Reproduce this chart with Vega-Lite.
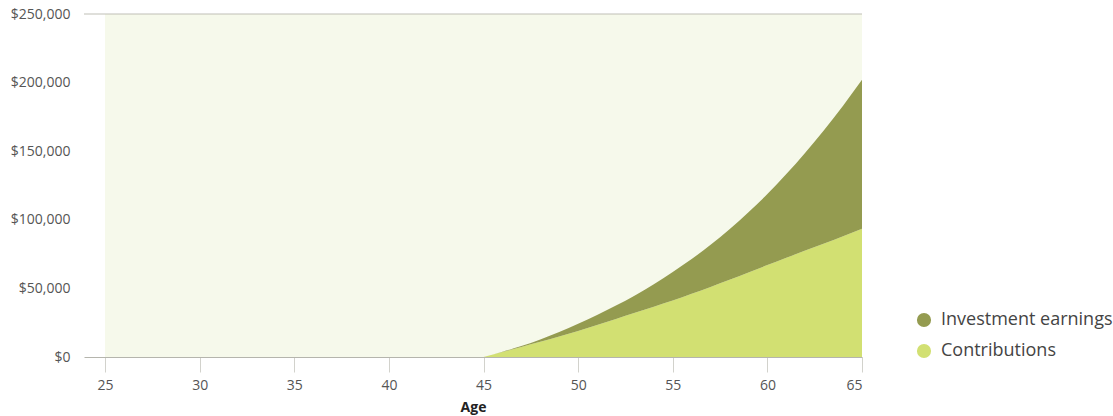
{
  "$schema": "https://vega.github.io/schema/vega-lite/v6.json",
  "width": 778,
  "height": 343,
  "autosize": {"type": "none"},
  "padding": {"left": 84, "top": 14, "right": 251, "bottom": 59},
  "background": "#ffffff",
  "config": {
    "view": {"stroke": null},
    "font": "Open Sans",
    "axis": {"labelFont": "Open Sans", "titleFont": "Open Sans"},
    "legend": {"labelFont": "Open Sans"}
  },
  "datasets": {
    "savings": [
      {"age": 45, "series": "Contributions", "amount": 0},
      {"age": 46, "series": "Contributions", "amount": 3600},
      {"age": 47, "series": "Contributions", "amount": 7300},
      {"age": 48, "series": "Contributions", "amount": 11100},
      {"age": 49, "series": "Contributions", "amount": 15000},
      {"age": 50, "series": "Contributions", "amount": 19000},
      {"age": 51, "series": "Contributions", "amount": 23300},
      {"age": 52, "series": "Contributions", "amount": 27700},
      {"age": 53, "series": "Contributions", "amount": 32200},
      {"age": 54, "series": "Contributions", "amount": 36700},
      {"age": 55, "series": "Contributions", "amount": 41200},
      {"age": 56, "series": "Contributions", "amount": 46100},
      {"age": 57, "series": "Contributions", "amount": 51100},
      {"age": 58, "series": "Contributions", "amount": 56300},
      {"age": 59, "series": "Contributions", "amount": 61600},
      {"age": 60, "series": "Contributions", "amount": 67000},
      {"age": 61, "series": "Contributions", "amount": 72300},
      {"age": 62, "series": "Contributions", "amount": 77600},
      {"age": 63, "series": "Contributions", "amount": 82800},
      {"age": 64, "series": "Contributions", "amount": 88100},
      {"age": 65, "series": "Contributions", "amount": 93400},
      {"age": 45, "series": "Investment earnings", "amount": 0},
      {"age": 46, "series": "Investment earnings", "amount": 200},
      {"age": 47, "series": "Investment earnings", "amount": 700},
      {"age": 48, "series": "Investment earnings", "amount": 1700},
      {"age": 49, "series": "Investment earnings", "amount": 3200},
      {"age": 50, "series": "Investment earnings", "amount": 5200},
      {"age": 51, "series": "Investment earnings", "amount": 7400},
      {"age": 52, "series": "Investment earnings", "amount": 9800},
      {"age": 53, "series": "Investment earnings", "amount": 12700},
      {"age": 54, "series": "Investment earnings", "amount": 16400},
      {"age": 55, "series": "Investment earnings", "amount": 20800},
      {"age": 56, "series": "Investment earnings", "amount": 25300},
      {"age": 57, "series": "Investment earnings", "amount": 30700},
      {"age": 58, "series": "Investment earnings", "amount": 36800},
      {"age": 59, "series": "Investment earnings", "amount": 43900},
      {"age": 60, "series": "Investment earnings", "amount": 51800},
      {"age": 61, "series": "Investment earnings", "amount": 61000},
      {"age": 62, "series": "Investment earnings", "amount": 71300},
      {"age": 63, "series": "Investment earnings", "amount": 82700},
      {"age": 64, "series": "Investment earnings", "amount": 95100},
      {"age": 65, "series": "Investment earnings", "amount": 108600}
    ]
  },
  "layer": [
    {
      "data": {"values": [{}]},
      "mark": {"type": "rect", "fill": "#f6f9eb"},
      "encoding": {
        "x": {"datum": 25, "type": "quantitative", "scale": {"domain": [23.89, 65], "nice": false, "zero": false}},
        "x2": {"datum": 65},
        "y": {"datum": 0, "type": "quantitative", "scale": {"domain": [0, 250000], "nice": false}},
        "y2": {"datum": 250000}
      }
    },
    {
      "data": {"values": [{}]},
      "mark": {"type": "rule", "color": "#bfbfb6", "strokeWidth": 1},
      "encoding": {
        "y": {"datum": 250000, "type": "quantitative"}
      }
    },
    {
      "data": {"name": "savings"},
      "mark": {"type": "area", "interpolate": "monotone"},
      "encoding": {
        "x": {
          "field": "age",
          "type": "quantitative",
          "scale": {"domain": [23.89, 65], "nice": false, "zero": false},
          "axis": {
            "title": "Age",
            "values": [25, 30, 35, 40, 45, 50, 55, 60, 65],
            "grid": false,
            "domainColor": "#b5b5ad",
            "tickColor": "#d2d2cc",
            "tickSize": 15,
            "labelFontSize": 14,
            "labelColor": "#555555",
            "labelPadding": 6,
            "titleFontSize": 14,
            "titleFontWeight": "bold",
            "titleColor": "#222222",
            "titlePadding": 8
          }
        },
        "y": {
          "field": "amount",
          "type": "quantitative",
          "stack": "zero",
          "scale": {"domain": [0, 250000], "nice": false},
          "axis": {
            "title": null,
            "values": [0, 50000, 100000, 150000, 200000, 250000],
            "format": "$,.0f",
            "domain": false,
            "ticks": false,
            "gridColor": "#bfbfb6",
            "labelFontSize": 14,
            "labelColor": "#555555",
            "labelPadding": 14
          }
        },
        "color": {
          "field": "series",
          "type": "nominal",
          "scale": {"domain": ["Investment earnings", "Contributions"], "range": ["#949b50", "#d2e072"]},
          "legend": {
            "title": null,
            "orient": "none",
            "legendX": 831,
            "legendY": 297,
            "symbolType": "circle",
            "symbolSize": 200,
            "symbolStrokeWidth": 0,
            "labelFontSize": 18,
            "labelLimit": 260,
            "labelColor": "#444444",
            "labelOffset": 8,
            "rowPadding": 13,
            "padding": 0
          }
        },
        "order": {"field": "series", "sort": "ascending"}
      }
    }
  ]
}
